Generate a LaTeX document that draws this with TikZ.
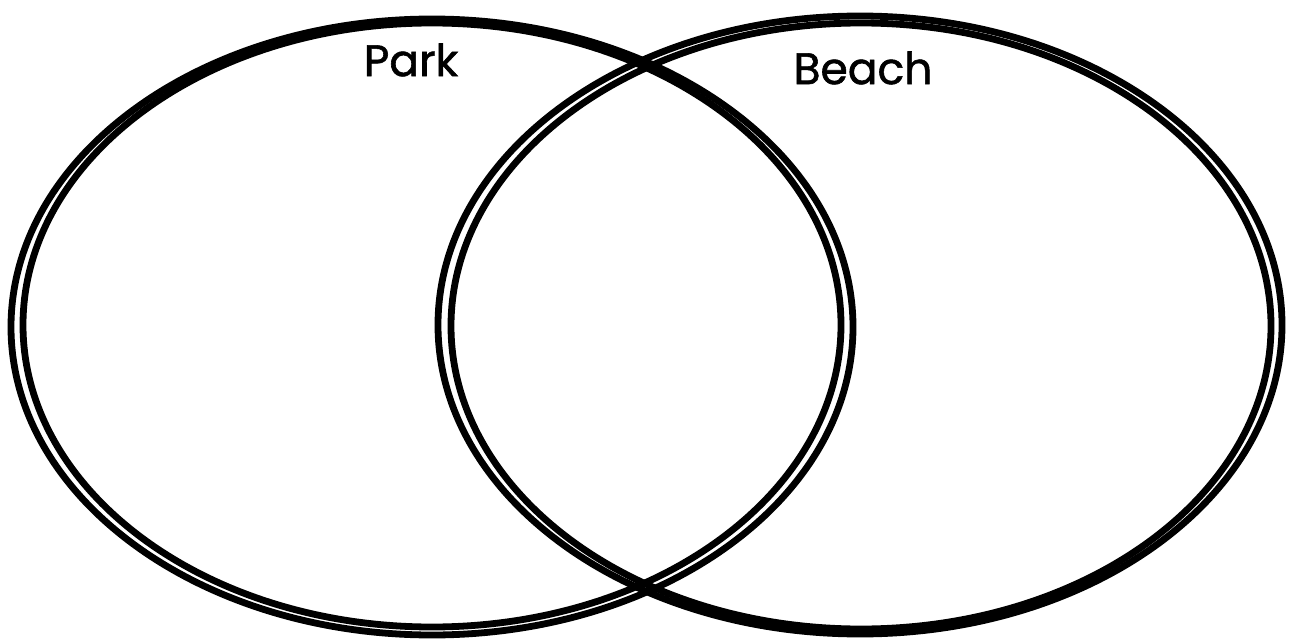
\documentclass[tikz,border=0pt]{standalone}
\usepackage{fontspec}
\setmainfont{Poppins}
\newfontfamily\labelfont{Poppins}[FakeBold=1.3]
\begin{document}
\begin{tikzpicture}[x=1pt,y=-1pt,
  ring/.style={draw=black,line width=6.8pt},
  label/.style={font=\labelfont\fontsize{44}{50}\selectfont,inner sep=0pt}]
\useasboundingbox (0,0) rectangle (1293,639);
% left set
\draw[ring] (432,327) ellipse [x radius=421, y radius=308];
\draw[ring] (432,325) ellipse [x radius=409, y radius=302];
% right set
\draw[ring] (860,325) ellipse [x radius=422, y radius=309];
\draw[ring] (861,326) ellipse [x radius=410, y radius=303];
\node[label] (park) at (411,60) {Park};
\node[label] (beach) at (863,68) {Beach};
\end{tikzpicture}
\end{document}
